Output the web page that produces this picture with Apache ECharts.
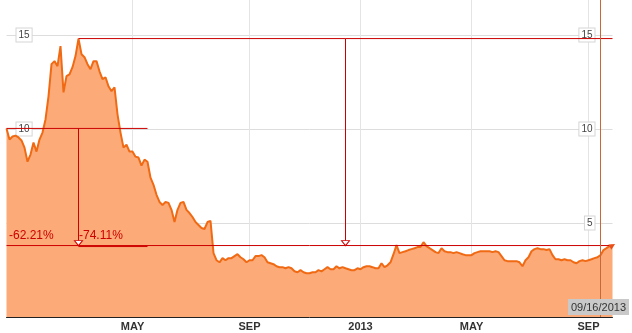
<!DOCTYPE html>
<html>
<head>
<meta charset="utf-8">
<script src="https://cdn.jsdelivr.net/npm/echarts@6/dist/echarts.min.js"></script>
<style>
html,body{margin:0;padding:0;background:#fff;}
#chart{width:632px;height:333px;}
</style>
</head>
<body>
<div id="chart"></div>
<script>
// Price series (trading-day samples, Apr 2012 - Sep 16 2013)
var prices = [
 10.03, 9.44, 9.60, 9.65, 9.55, 9.39, 9.01, 8.26, 8.64, 9.28,
 8.80, 9.44, 9.81, 10.51, 11.74, 13.45, 13.61, 13.34, 14.41, 11.95,
 12.81, 12.91, 13.29, 13.88, 14.81, 13.98, 13.82, 13.45, 13.18, 13.61,
 13.61, 13.07, 12.65, 12.75, 12.27, 12.01, 12.22, 10.78, 9.81, 9.01,
 9.17, 8.80, 8.80, 8.53, 8.48, 8.05, 8.37, 8.26, 7.41, 7.03,
 6.50, 6.12, 5.96, 6.12, 6.07, 5.70, 5.05, 5.70, 6.07, 6.12,
 5.70, 5.53, 5.32, 5.05, 4.89, 4.73, 4.68, 5.05, 5.11, 3.40,
 3.02, 2.91, 3.13, 3.02, 3.13, 3.13, 3.24, 3.34, 3.18, 3.07,
 2.91, 3.02, 3.02, 3.24, 3.24, 3.29, 3.18, 2.91, 2.86, 2.81,
 2.70, 2.65, 2.65, 2.59, 2.65, 2.59, 2.43, 2.38, 2.49, 2.38,
 2.33, 2.33, 2.38, 2.38, 2.49, 2.43, 2.54, 2.65, 2.54, 2.54,
 2.70, 2.59, 2.65, 2.59, 2.54, 2.49, 2.49, 2.59, 2.54, 2.65,
 2.70, 2.70, 2.65, 2.59, 2.59, 2.86, 2.65, 2.75, 2.91, 3.34,
 3.82, 3.40, 3.45, 3.50, 3.56, 3.61, 3.66, 3.72, 3.72, 3.98,
 3.77, 3.66, 3.56, 3.45, 3.40, 3.66, 3.50, 3.45, 3.45, 3.40,
 3.45, 3.40, 3.34, 3.29, 3.29, 3.29, 3.40, 3.45, 3.50, 3.50,
 3.50, 3.50, 3.45, 3.50, 3.45, 3.24, 3.02, 2.97, 2.97, 2.97,
 2.97, 2.91, 2.70, 3.02, 3.18, 3.50, 3.61, 3.66, 3.61, 3.61,
 3.56, 3.61, 3.29, 3.07, 3.07, 3.02, 3.07, 3.02, 3.02, 2.91,
 2.86, 2.97, 3.02, 2.97, 3.02, 3.07, 3.13, 3.18, 3.29, 3.56,
 3.66, 3.77, 3.80
];
// Month tick labels and the sample index where each month starts
var tickLabels = ['MAY', 'SEP', '2013', 'MAY', 'SEP'];
var tickIndex = [42, 81, 118, 155, 194];
// Annotation anchors
var startIdx = 0, peakIdx = 24, startLineEndIdx = 47, peakArrowIdx = 113, cursorIdx = 198;
var pctLabels = ['-62.21%', '-74.11%'];
var dateLabel = '09/16/2013';

var lastIdx = prices.length - 1;
var startVal = prices[startIdx];
var peakVal = prices[peakIdx];
var lastVal = prices[lastIdx];

var categories = prices.map(function (_, i) { return String(i); });
var tickLookup = {};
tickIndex.forEach(function (ix, k) { tickLookup[ix] = tickLabels[k]; });

var RED = '#cc0000';
var narrow = '"Liberation Sans Narrow", "Liberation Sans", Arial, sans-serif';

function segSeries(a, b, color) {
  return {
    type: 'line', data: [a, b], symbol: 'none', showSymbol: false, silent: true,
    lineStyle: {color: color, width: 1, type: 'solid'}, itemStyle: {color: color},
    z: 4, animation: false, tooltip: {show: false}
  };
}

var segments = [
  segSeries([peakIdx, peakVal], [lastIdx, peakVal], RED),
  segSeries([startIdx, startVal], [startLineEndIdx, startVal], RED),
  segSeries([startIdx, lastVal], [lastIdx, lastVal], RED),
  segSeries([peakIdx, lastVal - 0.053], [startLineEndIdx, lastVal - 0.053], RED),
  segSeries([peakIdx, startVal], [peakIdx, lastVal], RED),
  segSeries([peakArrowIdx, peakVal], [peakArrowIdx, lastVal], RED),
  segSeries([cursorIdx, 0], [cursorIdx, 17], '#c8683a')
];

var chart = echarts.init(document.getElementById('chart'), null, {renderer: 'canvas'});
chart.setOption({
  animation: false,
  backgroundColor: '#ffffff',
  grid: {left: 6.5, right: 19.5, top: -2.6, bottom: 16, containLabel: false, outerBoundsMode: 'none'},
  xAxis: {
    type: 'category',
    data: categories,
    boundaryGap: false,
    axisLine: {show: true, lineStyle: {color: '#222', width: 1}},
    axisTick: {show: false},
    axisLabel: {
      interval: function (i) { return tickLookup[i] !== undefined; },
      formatter: function (v, i) { return tickLookup[i] || ''; },
      color: '#333', fontFamily: narrow, fontWeight: 'bold', fontSize: 11, margin: 4
    },
    splitLine: {
      show: true,
      interval: function (i) { return tickLookup[i] !== undefined; },
      lineStyle: {color: '#e4e4e4', width: 1}
    }
  },
  yAxis: [{
    type: 'value', position: 'left', min: 0, max: 17, interval: 5,
    axisLine: {show: false}, axisTick: {show: false},
    axisLabel: {
      inside: true, margin: 10, showMinLabel: false, showMaxLabel: false,
      color: '#444', fontFamily: narrow, fontSize: 10,
      backgroundColor: '#fff', borderColor: '#d6d6d6', borderWidth: 1, padding: [2, 2, 1, 2]
    },
    splitLine: {show: true, lineStyle: {color: '#dddddd', width: 1}}
  }, {
    type: 'value', position: 'right', min: 0, max: 17, interval: 5,
    axisLine: {show: false}, axisTick: {show: false},
    axisLabel: {
      inside: true, margin: 18, showMinLabel: false, showMaxLabel: false,
      color: '#444', fontFamily: narrow, fontSize: 10,
      backgroundColor: '#fff', borderColor: '#d6d6d6', borderWidth: 1, padding: [2, 2, 1, 2]
    },
    splitLine: {show: false}
  }],
  series: [{
    type: 'line',
    data: prices,
    showSymbol: false,
    symbol: 'none',
    lineStyle: {color: '#f06a14', width: 2},
    itemStyle: {color: '#f06a14'},
    areaStyle: {color: '#fcaa78', opacity: 1},
    z: 2,
    markPoint: {
      silent: true,
      z: 6,
      data: [
        {coord: [peakIdx, lastVal], symbol: 'triangle', symbolRotate: 180, symbolSize: [8, 5], symbolOffset: [0, -2.5],
         itemStyle: {color: '#fff', borderColor: RED, borderWidth: 1}, label: {show: false}},
        {coord: [peakArrowIdx, lastVal], symbol: 'triangle', symbolRotate: 180, symbolSize: [8, 5], symbolOffset: [0, -2.5],
         itemStyle: {color: '#fff', borderColor: RED, borderWidth: 1}, label: {show: false}},
        {coord: [lastIdx, lastVal], symbol: 'triangle', symbolRotate: -60, symbolSize: 6,
         itemStyle: {color: '#e8501a'}, label: {show: false}},
        {coord: [startIdx, lastVal], symbol: 'circle', symbolSize: 1, itemStyle: {color: 'rgba(0,0,0,0)'},
         label: {show: true, formatter: pctLabels[0], position: 'right', distance: 2, offset: [0, -10],
                 color: RED, fontSize: 12, fontFamily: '"Liberation Sans", Arial, sans-serif'}},
        {coord: [peakIdx, lastVal], symbol: 'circle', symbolSize: 1, itemStyle: {color: 'rgba(0,0,0,0)'},
         label: {show: true, formatter: pctLabels[1], position: 'right', distance: 0, offset: [0, -10],
                 color: RED, fontSize: 12, fontFamily: '"Liberation Sans", Arial, sans-serif'}}
      ]
    }
  }].concat(segments),
  graphic: [{
    type: 'text',
    right: 3,
    bottom: 18,
    z: 100,
    style: {
      text: dateLabel,
      fill: '#333',
      font: '11px "Liberation Sans", Arial, sans-serif',
      backgroundColor: '#c9c9c9',
      padding: [3, 3, 2, 3]
    }
  }]
});
</script>
</body>
</html>
